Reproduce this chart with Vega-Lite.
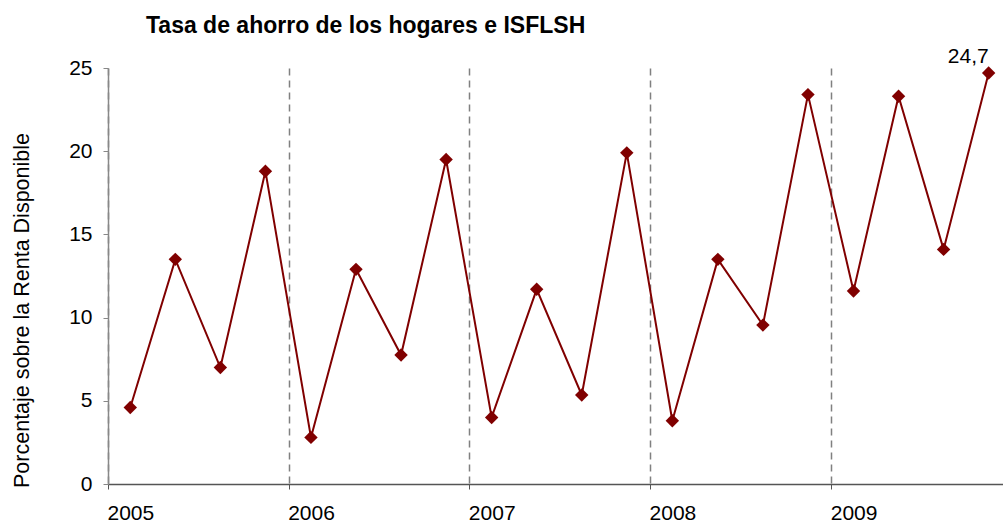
{
  "$schema": "https://vega.github.io/schema/vega-lite/v6.json",
  "autosize": {"type": "none"},
  "padding": {"left": 108, "top": 68, "right": 0, "bottom": 38},
  "width": 895,
  "height": 416,
  "background": "white",
  "config": {
    "view": {"stroke": null},
    "font": "Liberation Sans",
    "locale": {"number": {"decimal": ",", "thousands": ".", "grouping": [3], "currency": ["", " €"]}}
  },
  "title": {
    "text": "Tasa de ahorro de los hogares e ISFLSH",
    "anchor": "start",
    "dx": 135,
    "fontSize": 23,
    "fontWeight": "bold",
    "font": "Liberation Sans",
    "color": "#000000",
    "offset": 8
  },
  "data": {
    "values": [
      {"date": "2005-02-15", "value": 4.6},
      {"date": "2005-05-17", "value": 13.5},
      {"date": "2005-08-16", "value": 7.0},
      {"date": "2005-11-15", "value": 18.8},
      {"date": "2006-02-15", "value": 2.8},
      {"date": "2006-05-17", "value": 12.9},
      {"date": "2006-08-16", "value": 7.75},
      {"date": "2006-11-15", "value": 19.5},
      {"date": "2007-02-15", "value": 4.0},
      {"date": "2007-05-17", "value": 11.7},
      {"date": "2007-08-16", "value": 5.35},
      {"date": "2007-11-15", "value": 19.9},
      {"date": "2008-02-15", "value": 3.8},
      {"date": "2008-05-17", "value": 13.5},
      {"date": "2008-08-16", "value": 9.55},
      {"date": "2008-11-15", "value": 23.4},
      {"date": "2009-02-15", "value": 11.6},
      {"date": "2009-05-17", "value": 23.3},
      {"date": "2009-08-16", "value": 14.1},
      {"date": "2009-11-15", "value": 24.7}
    ]
  },
  "encoding": {
    "x": {
      "field": "date",
      "type": "temporal",
      "scale": {
        "type": "utc",
        "domain": [
          {"year": 2005, "month": 1, "date": 1, "utc": true},
          {"year": 2009, "month": 12, "date": 14, "utc": true}
        ]
      },
      "axis": {
        "title": null,
        "format": "%Y",
        "tickCount": {"interval": "year", "step": 1},
        "labelAlign": "left",
        "labelFontSize": 21,
        "labelColor": "#000000",
        "labelPadding": 13,
        "labelFlush": false,
        "labelOverlap": false,
        "labelOffset": -1,
        "tickSize": 5,
        "tickColor": "#555555",
        "domainColor": "#555555",
        "domainWidth": 1.5,
        "grid": true,
        "gridDash": [7, 5],
        "gridColor": "#808080",
        "gridWidth": 1.5
      }
    },
    "y": {
      "field": "value",
      "type": "quantitative",
      "scale": {"domain": [0, 25], "nice": false},
      "axis": {
        "title": "Porcentaje sobre la Renta Disponible",
        "values": [0, 5, 10, 15, 20, 25],
        "grid": false,
        "labelFontSize": 21,
        "labelColor": "#000000",
        "labelPadding": 11,
        "tickSize": 5,
        "tickColor": "#888888",
        "domainColor": "#888888",
        "domainWidth": 1.5,
        "titleFontSize": 21.5,
        "titleFontWeight": "normal",
        "titleColor": "#000000",
        "titleAngle": -90,
        "titleAlign": "center",
        "titleBaseline": "alphabetic",
        "titleX": -80,
        "titleY": 242
      }
    }
  },
  "layer": [
    {"mark": {"type": "line", "color": "#800000", "strokeWidth": 2}},
    {"mark": {"type": "point", "shape": "diamond", "filled": true, "color": "#800000", "size": 180, "opacity": 1}},
    {
      "transform": [{"filter": "year(datum.date) == 2009 && month(datum.date) == 10"}],
      "mark": {"type": "text", "align": "right", "baseline": "alphabetic", "dy": -10, "fontSize": 21, "color": "#000000"},
      "encoding": {"text": {"field": "value", "type": "quantitative", "format": ".1f"}}
    }
  ]
}
